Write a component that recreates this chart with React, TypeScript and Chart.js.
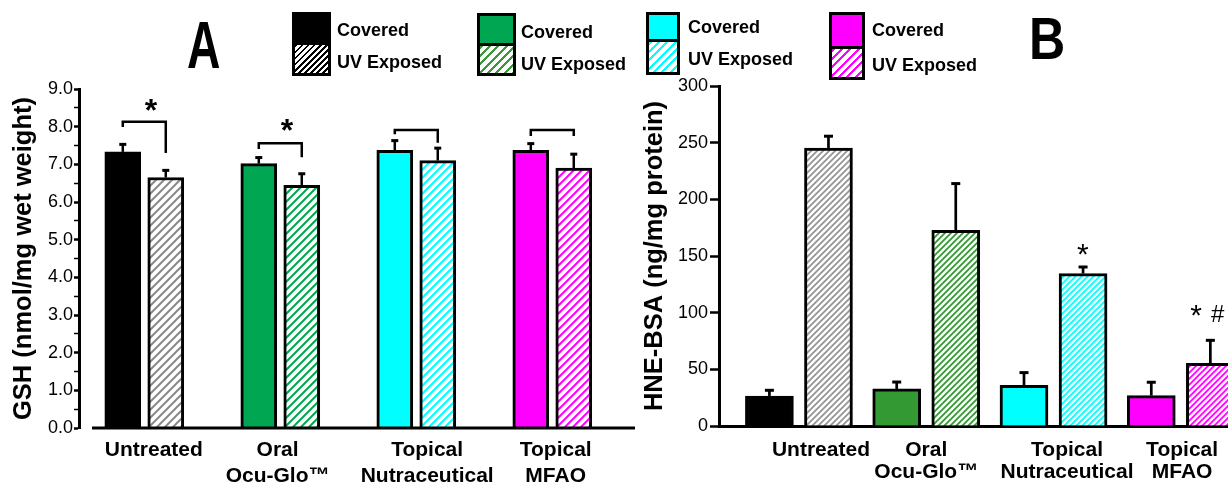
import React, { useEffect, useRef } from 'react';
import { Chart, registerables } from 'chart.js';

Chart.register(...registerables);

// ---------- data ----------
const categories: string[][] = [['Untreated'], ['Oral', 'Ocu-Glo™'], ['Topical', 'Nutraceutical'], ['Topical', 'MFAO']];
const seriesNames = ['Covered', 'UV Exposed'];

const gshCovered = [7.33, 7.02, 7.37, 7.37];
const gshCoveredErr = [0.2, 0.16, 0.26, 0.18];
const gshUV = [6.65, 6.44, 7.1, 6.9];
const gshUVErr = [0.19, 0.31, 0.33, 0.37];

const hneCovered = [26.5, 32.7, 35.9, 26.8];
const hneCoveredErr = [5.0, 6.1, 11.2, 11.8];
const hneUV = [245.3, 172.7, 134.5, 55.3];
const hneUVErr = [10.4, 41.2, 5.8, 20.3];

const gshTitle = 'GSH (nmol/mg wet weight)';
const hneTitle = 'HNE-BSA (ng/mg protein)';
const gshTickRange = [0, 9];
const gshTickStep = 0.5;
const hneTickRange = [0, 300];
const hneTickStep = 50;

// significance brackets for panel A (data units)
const gshBracketTop = [8.13, 7.56, 7.91, 7.91];
const gshBracketLeftEnd = [7.99, 7.41, 7.8, 7.75];
const gshBracketRightEnd = [7.3, 7.19, 7.57, 7.75];
const gshStarLevel = [8.63, 8.12];
const hneMarks = [
  { text: '*', cat: 2, dx: 0.23, level: 158, bold: false, size: 30, rise: 0.575 },
  { text: '*', cat: 3, dx: 0.12, level: 104, bold: false, size: 30, rise: 0.575 },
  { text: '#', cat: 3, dx: 0.29, level: 99, bold: false, size: 24, rise: 0.36 },
];

// ---------- styles ----------
const FONT = "'Liberation Sans', Arial, Helvetica, sans-serif";
const coveredColorsA = ['#000000', '#00A651', '#00FFFF', '#FF00FF'];
const hatchColorsA = ['#8a8a8a', '#00A651', '#00FFFF', '#FF00FF'];
const coveredColorsB = ['#000000', '#339933', '#00FFFF', '#FF00FF'];
const hatchColorsB = ['#959595', '#339933', '#00FFFF', '#FF00FF'];
const legendFill = ['#000000', '#00A651', '#00FFFF', '#FF00FF'];
const legendHatch = ['#000000', '#3a9a3a', '#00FFFF', '#FF00FF'];

const legendLayout = [
  { x: 292, w: 39, top: 12, mid: 43, bottom: 76, tx: 337, t1: 23, t2: 55, period: 4.3, stripe: 1.9 },
  { x: 477, w: 39, top: 13, mid: 44, bottom: 76, tx: 521, t1: 25, t2: 57, period: 5.9, stripe: 2.2 },
  { x: 646, w: 34, top: 12, mid: 40, bottom: 75, tx: 688, t1: 20, t2: 52, period: 5.9, stripe: 2.2 },
  { x: 829, w: 36, top: 12, mid: 47, bottom: 80, tx: 872, t1: 23, t2: 58, period: 5.9, stripe: 2.2 },
];

function hatch(color: string, size: number, lw: number): CanvasPattern {
  const c = document.createElement('canvas');
  c.width = size;
  c.height = size;
  const g = c.getContext('2d')!;
  g.fillStyle = '#ffffff';
  g.fillRect(0, 0, size, size);
  g.strokeStyle = color;
  g.lineWidth = lw;
  g.beginPath();
  g.moveTo(-1, size + 1);
  g.lineTo(size + 1, -1);
  g.moveTo(-size / 2 - 1, size / 2 + 1);
  g.lineTo(size / 2 + 1, -size / 2 - 1);
  g.moveTo(size / 2 - 1, size * 1.5 + 1);
  g.lineTo(size * 1.5 + 1, size / 2 - 1);
  g.stroke();
  return g.createPattern(c, 'repeat')!;
}

interface AnnotCfg {
  values: number[][];
  errors: number[][];
  errLw: number;
  capLw: number;
  capW: number;
  extra?: (chart: any, ctx: CanvasRenderingContext2D) => void;
}

function annotPlugin(id: string, cfg: AnnotCfg) {
  return {
    id,
    afterDatasetsDraw(chart: any) {
      const ctx: CanvasRenderingContext2D = chart.ctx;
      const ys = chart.scales.y;
      ctx.save();
      ctx.strokeStyle = '#000';
      ctx.fillStyle = '#000';
      cfg.errors.forEach((errs, di) => {
        const meta = chart.getDatasetMeta(di);
        meta.data.forEach((el: any, i: number) => {
          const top = ys.getPixelForValue(cfg.values[di][i] + errs[i]);
          ctx.lineWidth = cfg.errLw;
          ctx.beginPath();
          ctx.moveTo(el.x, el.y);
          ctx.lineTo(el.x, top);
          ctx.stroke();
          ctx.lineWidth = cfg.capLw;
          ctx.beginPath();
          ctx.moveTo(el.x - cfg.capW / 2, top);
          ctx.lineTo(el.x + cfg.capW / 2, top);
          ctx.stroke();
        });
      });
      if (cfg.extra) cfg.extra(chart, ctx);
      ctx.restore();
    },
  };
}

const pairOffsetA = 0.158;
const pairOffsetB = 0.232;
const labelShiftA = [0.07, -0.02, 0.08, 0.025];
const labelShiftB = [0.173, 0, 0.106, 0.01];

function configA(): any {
  const patterns = hatchColorsA.map((c) => hatch(c, 8, 2));
  const tickPos = categories.map((_, i) => i + labelShiftA[i]);
  return {
    type: 'bar',
    data: {
      datasets: [
        {
          label: seriesNames[0],
          data: gshCovered.map((v, i) => ({ x: i - pairOffsetA, y: v })),
          backgroundColor: coveredColorsA,
          borderColor: '#000',
          borderWidth: 3,
          barThickness: 36,
          grouped: false,
        },
        {
          label: seriesNames[1],
          data: gshUV.map((v, i) => ({ x: i + pairOffsetA, y: v })),
          backgroundColor: patterns,
          borderColor: '#000',
          borderWidth: 3,
          barThickness: 36,
          grouped: false,
        },
      ],
    },
    options: {
      responsive: false,
      animation: false,
      layout: { padding: { top: 89, left: 0, right: 0, bottom: 0 } },
      plugins: { legend: { display: false }, tooltip: { enabled: false } },
      scales: {
        x: {
          type: 'linear',
          offset: false,
          min: -0.48,
          max: 3.645,
          grid: { display: false, offset: false },
          border: { display: false },
          afterBuildTicks: (s: any) => {
            s.ticks = tickPos.map((v) => ({ value: v }));
          },
          afterFit: (s: any) => {
            s.height = 56;
          },
          ticks: {
            autoSkip: false,
            maxRotation: 0,
            padding: 1,
            color: '#000',
            font: { family: FONT, size: 21, weight: 'bold', lineHeight: 1.24 },
            callback: (_v: any, i: number) => categories[i],
          },
        },
        y: {
          min: gshTickRange[0],
          max: gshTickRange[1],
          afterFit: (s: any) => {
            s.width = 79;
          },
          border: { display: true, color: '#000', width: 3 },
          grid: {
            drawOnChartArea: false,
            drawTicks: true,
            tickLength: 5,
            tickColor: '#000',
            tickWidth: (c: any) => (Number.isInteger(c.tick?.value) ? 2.5 : 1.5),
          },
          ticks: {
            stepSize: gshTickStep,
            autoSkip: false,
            padding: 1,
            color: '#000',
            font: { family: FONT, size: 18 },
            callback: (v: any) => (Number.isInteger(v) ? Number(v).toFixed(1) : ''),
          },
          title: {
            display: true,
            text: gshTitle,
            color: '#000',
            font: { family: FONT, size: 25.5, weight: 'bold', lineHeight: 1.2 },
            padding: { top: 9, bottom: 0 },
          },
        },
      },
    },
    plugins: [
      annotPlugin('annotA', {
        values: [gshCovered, gshUV],
        errors: [gshCoveredErr, gshUVErr],
        errLw: 2.5,
        capLw: 3,
        capW: 7,
        extra: (chart, ctx) => {
          const xs = chart.scales.x;
          const ys = chart.scales.y;
          const area = chart.chartArea;
          // x axis line (detached from y axis)
          ctx.lineWidth = 3;
          const y0 = ys.getPixelForValue(0);
          ctx.beginPath();
          ctx.moveTo(area.left + 13, y0);
          ctx.lineTo(area.right - 5, y0);
          ctx.stroke();
          // brackets
          ctx.lineWidth = 2.5;
          categories.forEach((_, i) => {
            const xl = xs.getPixelForValue(i - pairOffsetA);
            const xr = xs.getPixelForValue(i + pairOffsetA);
            const yt = ys.getPixelForValue(gshBracketTop[i]);
            ctx.beginPath();
            ctx.moveTo(xl, ys.getPixelForValue(gshBracketLeftEnd[i]));
            ctx.lineTo(xl, yt);
            ctx.lineTo(xr, yt);
            ctx.lineTo(xr, ys.getPixelForValue(gshBracketRightEnd[i]));
            ctx.stroke();
          });
          // stars
          ctx.font = `bold 32px ${FONT}`;
          ctx.textAlign = 'center';
          ctx.textBaseline = 'alphabetic';
          gshStarLevel.forEach((lv, i) => {
            ctx.fillText('*', xs.getPixelForValue(i + 0.05), ys.getPixelForValue(lv) + 0.575 * 32);
          });
        },
      }),
    ],
  };
}

function configB(): any {
  const patterns = hatchColorsB.map((c) => hatch(c, 6, 1.8));
  const tickPos = categories.map((_, i) => i + labelShiftB[i]);
  return {
    type: 'bar',
    data: {
      datasets: [
        {
          label: seriesNames[0],
          data: hneCovered.map((v, i) => ({ x: i - pairOffsetB, y: v })),
          backgroundColor: coveredColorsB,
          borderColor: '#000',
          borderWidth: 3,
          barThickness: 48,
          grouped: false,
        },
        {
          label: seriesNames[1],
          data: hneUV.map((v, i) => ({ x: i + pairOffsetB, y: v })),
          backgroundColor: patterns,
          borderColor: '#000',
          borderWidth: 3,
          barThickness: 48,
          grouped: false,
        },
      ],
    },
    options: {
      responsive: false,
      animation: false,
      layout: { padding: { top: 86, left: 0, right: 0, bottom: 0 } },
      plugins: { legend: { display: false }, tooltip: { enabled: false } },
      scales: {
        x: {
          type: 'linear',
          offset: false,
          min: -0.628,
          max: 3.622,
          grid: { display: false, offset: false },
          border: { display: true, color: '#000', width: 3 },
          afterBuildTicks: (s: any) => {
            s.ticks = tickPos.map((v) => ({ value: v }));
          },
          afterFit: (s: any) => {
            s.height = 58;
          },
          ticks: {
            autoSkip: false,
            maxRotation: 0,
            padding: 5,
            color: '#000',
            font: { family: FONT, size: 21, weight: 'bold', lineHeight: 1.05 },
            callback: (_v: any, i: number) => categories[i],
          },
        },
        y: {
          min: hneTickRange[0],
          max: hneTickRange[1],
          afterFit: (s: any) => {
            s.width = 99;
          },
          border: { display: true, color: '#000', width: 3 },
          grid: {
            drawOnChartArea: false,
            drawTicks: true,
            tickLength: 9,
            tickColor: '#000',
            tickWidth: 2.5,
          },
          ticks: {
            stepSize: hneTickStep,
            autoSkip: false,
            padding: 2,
            color: '#000',
            font: { family: FONT, size: 18 },
          },
          title: {
            display: true,
            text: hneTitle,
            color: '#000',
            font: { family: FONT, size: 25.5, weight: 'bold', lineHeight: 1.2 },
            padding: { top: 20, bottom: 0 },
          },
        },
      },
    },
    plugins: [
      annotPlugin('annotB', {
        values: [hneCovered, hneUV],
        errors: [hneCoveredErr, hneUVErr],
        errLw: 2.7,
        capLw: 3,
        capW: 9,
        extra: (chart, ctx) => {
          const xs = chart.scales.x;
          const ys = chart.scales.y;
          ctx.textAlign = 'center';
          ctx.textBaseline = 'alphabetic';
          hneMarks.forEach((m) => {
            ctx.font = `${m.bold ? 'bold ' : ''}${m.size}px ${FONT}`;
            ctx.fillText(m.text, xs.getPixelForValue(m.cat + m.dx), ys.getPixelForValue(m.level) + m.rise * m.size);
          });
        },
      }),
    ],
  };
}

export default function App() {
  const refA = useRef<HTMLCanvasElement>(null);
  const refB = useRef<HTMLCanvasElement>(null);

  useEffect(() => {
    Chart.defaults.font.family = FONT;
    Chart.defaults.color = '#000';
    const a = new Chart(refA.current!, configA());
    const b = new Chart(refB.current!, configB());
    return () => {
      a.destroy();
      b.destroy();
    };
  }, []);

  const textStyle = (left: number, capTop: number, size: number): React.CSSProperties => ({
    position: 'absolute',
    left,
    top: capTop - 0.13 * size,
    fontFamily: FONT,
    fontWeight: 'bold',
    fontSize: size,
    lineHeight: `${size}px`,
    whiteSpace: 'nowrap',
    color: '#000',
  });

  return (
    <div
      style={{
        position: 'absolute',
        left: 0,
        top: 0,
        width: 1228,
        height: 484,
        overflow: 'hidden',
        background: '#ffffff',
      }}
    >
      <canvas ref={refA} width={640} height={484} style={{ position: 'absolute', left: 0, top: 0 }} />
      <canvas ref={refB} width={640} height={484} style={{ position: 'absolute', left: 620, top: 0 }} />

      <div style={{ ...textStyle(187, 20, 67), transform: 'scaleX(0.69)', transformOrigin: 'left top' }}>A</div>
      <div style={{ ...textStyle(1029, 18, 59), transform: 'scaleX(0.85)', transformOrigin: 'left top' }}>B</div>

      {legendLayout.map((l, i) => (
        <React.Fragment key={i}>
          <div
            style={{
              position: 'absolute',
              left: l.x,
              top: l.top,
              width: l.w,
              height: l.mid - l.top + 1.5,
              boxSizing: 'border-box',
              border: '3px solid #000',
              background: legendFill[i],
            }}
          />
          <div
            style={{
              position: 'absolute',
              left: l.x,
              top: l.mid - 1.5,
              width: l.w,
              height: l.bottom - l.mid + 1.5,
              boxSizing: 'border-box',
              border: '3px solid #000',
              background: `repeating-linear-gradient(135deg, ${legendHatch[i]} 0px, ${legendHatch[i]} ${l.stripe}px, #ffffff ${l.stripe}px, #ffffff ${l.period}px)`,
            }}
          />
          <div style={textStyle(l.tx, l.t1, 18)}>{seriesNames[0]}</div>
          <div style={textStyle(l.tx, l.t2, 18)}>{seriesNames[1]}</div>
        </React.Fragment>
      ))}
    </div>
  );
}
